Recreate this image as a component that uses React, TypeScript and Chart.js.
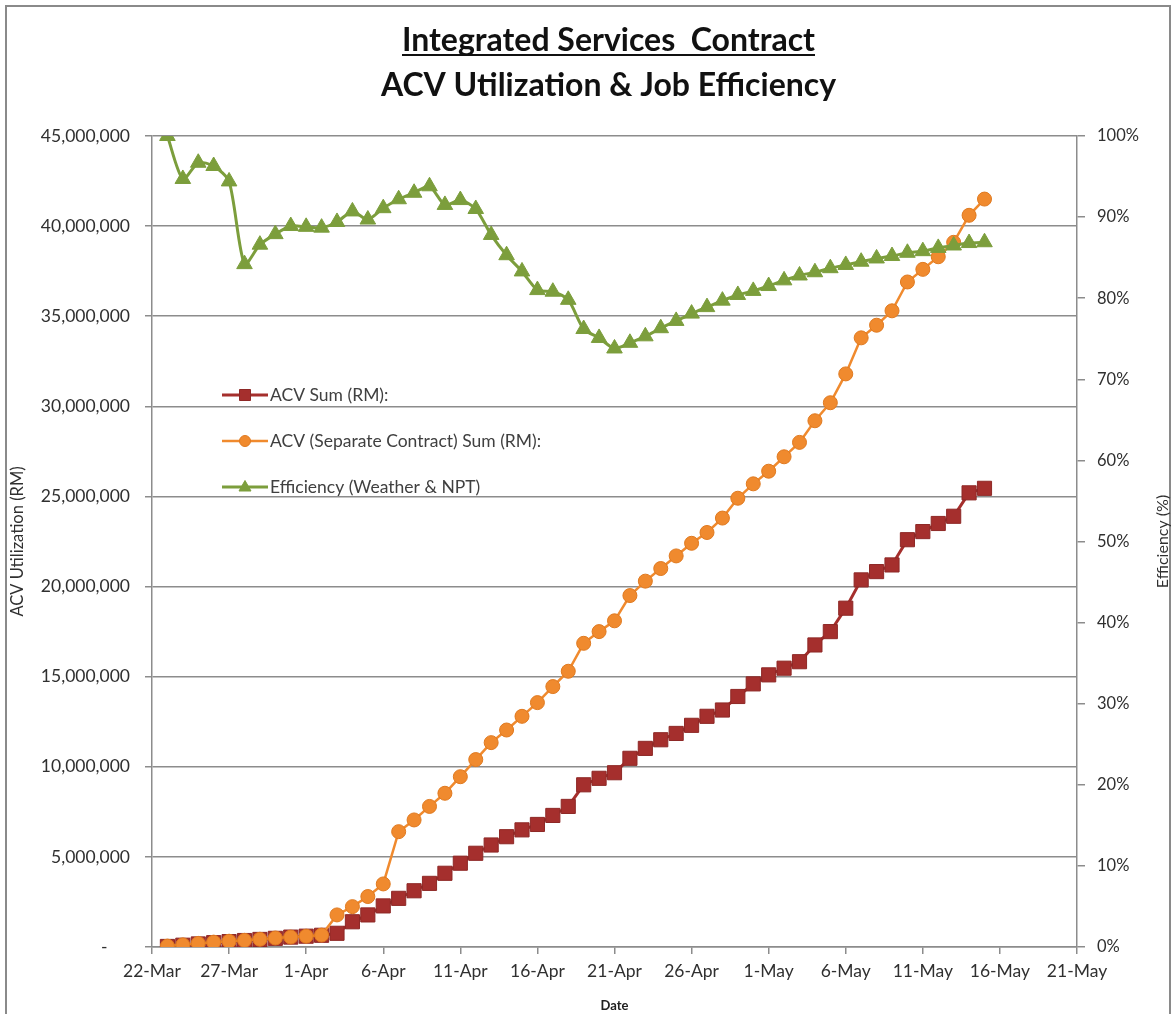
import React, { useEffect, useRef } from "react";
import { Chart, registerables } from "chart.js";

Chart.register(...registerables);

// ---------------- DATA ----------------
const titleLines = ["Integrated Services  Contract", "ACV Utilization & Job Efficiency"];

const seriesNames = [
  "ACV Sum (RM):",
  "ACV (Separate Contract) Sum (RM):",
  "Efficiency (Weather & NPT)",
];

const dates = [
  "23-Mar", "24-Mar", "25-Mar", "26-Mar", "27-Mar", "28-Mar", "29-Mar", "30-Mar", "31-Mar",
  "1-Apr", "2-Apr", "3-Apr", "4-Apr", "5-Apr", "6-Apr", "7-Apr", "8-Apr", "9-Apr", "10-Apr",
  "11-Apr", "12-Apr", "13-Apr", "14-Apr", "15-Apr", "16-Apr", "17-Apr", "18-Apr", "19-Apr", "20-Apr",
  "21-Apr", "22-Apr", "23-Apr", "24-Apr", "25-Apr", "26-Apr", "27-Apr", "28-Apr", "29-Apr", "30-Apr",
  "1-May", "2-May", "3-May", "4-May", "5-May", "6-May", "7-May", "8-May", "9-May", "10-May",
  "11-May", "12-May", "13-May", "14-May", "15-May",
];

// RM (millions)
const acvSum = [
  0.03, 0.1, 0.17, 0.24, 0.3, 0.36, 0.42, 0.48, 0.55, 0.6,
  0.65, 0.76, 1.4, 1.78, 2.28, 2.7, 3.12, 3.53, 4.09, 4.65,
  5.2, 5.66, 6.12, 6.5, 6.8, 7.3, 7.8, 9.0, 9.36, 9.67,
  10.47, 11.02, 11.5, 11.85, 12.3, 12.8, 13.15, 13.9, 14.6, 15.1,
  15.47, 15.83, 16.76, 17.5, 18.8, 20.37, 20.83, 21.2, 22.6, 23.05,
  23.5, 23.9, 25.2, 25.45,
];

// RM (millions)
const acvSeparate = [
  0.05, 0.12, 0.2, 0.27, 0.32, 0.37, 0.43, 0.5, 0.55, 0.6,
  0.66, 1.78, 2.24, 2.8, 3.5, 6.4, 7.05, 7.8, 8.53, 9.45,
  10.4, 11.34, 12.04, 12.8, 13.56, 14.45, 15.3, 16.85, 17.5, 18.1,
  19.5, 20.3, 21.0, 21.7, 22.4, 23.0, 23.8, 24.9, 25.7, 26.4,
  27.2, 28.0, 29.2, 30.2, 31.8, 33.8, 34.5, 35.3, 36.9, 37.6,
  38.3, 39.1, 40.6, 41.5,
];

// %
const efficiency = [
  100, 94.7, 96.7, 96.3, 94.4, 84.2, 86.6, 87.9, 88.9, 88.8,
  88.7, 89.4, 90.7, 89.7, 91.1, 92.2, 93.0, 93.8, 91.5, 92.1,
  91.0, 87.8, 85.3, 83.3, 81.0, 80.8, 79.8, 76.2, 75.1, 73.8,
  74.5, 75.3, 76.3, 77.2, 78.1, 78.9, 79.7, 80.4, 80.9, 81.5,
  82.2, 82.8, 83.2, 83.7, 84.1, 84.5, 84.9, 85.2, 85.6, 85.8,
  86.2, 86.5, 86.8, 86.9,
];

const xTickLabels = [
  "22-Mar", "27-Mar", "1-Apr", "6-Apr", "11-Apr", "16-Apr", "21-Apr",
  "26-Apr", "1-May", "6-May", "11-May", "16-May", "21-May",
];

const leftAxisTitle = "ACV Utilization (RM)";
const rightAxisTitle = "Efficiency (%)";
const xAxisTitle = "Date";

// ---------------- STYLE ----------------
const FONT = "Lato, 'Open Sans', sans-serif";
const RED = "#A52F2D";
const ORANGE = "#F08A2E";
const ORANGE_BORDER = "#E07A20";
const GREEN = "#7C9E3C";
const GRID = "#8C8C8C";
const TEXT = "#303030";

const monthStart: Record<string, number> = { Mar: 0, Apr: 31, May: 61 };
const dayOffset = (s: string) => {
  const [d, m] = s.split("-");
  return monthStart[m] + parseInt(d, 10) - 22;
};

const frameAndTitle = {
  id: "frameAndTitle",
  beforeDraw(chart: any) {
    const ctx = chart.ctx;
    ctx.save();
    ctx.fillStyle = "#ffffff";
    ctx.fillRect(0, 0, chart.width, chart.height);
    ctx.strokeStyle = "#8a8a8a";
    ctx.lineWidth = 2;
    ctx.strokeRect(6, 6, chart.width - 9, chart.height + 40);
    ctx.restore();
  },
  afterDraw(chart: any) {
    const ctx = chart.ctx;
    const ca = chart.chartArea;
    const cx = (ca.left + ca.right) / 2 - 6;
    ctx.save();
    ctx.fillStyle = "#111";
    ctx.textAlign = "center";
    ctx.textBaseline = "alphabetic";
    ctx.font = `bold 32px ${FONT}`;
    const b1 = 51;
    ctx.fillText(titleLines[0], cx, b1);
    const w = ctx.measureText(titleLines[0]).width;
    ctx.fillRect(cx - w / 2, b1 + 3, w, 2);
    ctx.fillText(titleLines[1], cx, 96);

    // right axis title (reads bottom to top)
    ctx.translate(1163, (ca.top + ca.bottom) / 2);
    ctx.rotate(-Math.PI / 2);
    ctx.font = `16px ${FONT}`;
    ctx.fillStyle = TEXT;
    ctx.textBaseline = "middle";
    ctx.fillText(rightAxisTitle, 0, 0);
    ctx.restore();

    // inside legend
    const x0 = ca.left + 70;
    chart.data.datasets.forEach((ds: any, i: number) => {
      const y = ca.top + 259 + i * 46;
      ctx.save();
      ctx.strokeStyle = ds.borderColor;
      ctx.lineWidth = ds.borderWidth;
      ctx.beginPath();
      ctx.moveTo(x0, y);
      ctx.lineTo(x0 + 46, y);
      ctx.stroke();
      const mx = x0 + 23;
      ctx.fillStyle = ds.pointBackgroundColor;
      ctx.strokeStyle = ds.pointBorderColor;
      ctx.lineWidth = 1;
      ctx.beginPath();
      if (ds.pointStyle === "rect") {
        ctx.rect(mx - 5.5, y - 5.5, 11, 11);
      } else if (ds.pointStyle === "circle") {
        ctx.arc(mx, y, 5.5, 0, Math.PI * 2);
      } else {
        ctx.moveTo(mx, y - 6.5);
        ctx.lineTo(mx + 6, y + 4);
        ctx.lineTo(mx - 6, y + 4);
        ctx.closePath();
      }
      ctx.fill();
      ctx.stroke();
      ctx.fillStyle = "#404040";
      ctx.font = `17.5px ${FONT}`;
      ctx.textAlign = "left";
      ctx.textBaseline = "middle";
      ctx.fillText(ds.label, x0 + 48, y);
      ctx.restore();
    });
  },
};

export default function App() {
  const ref = useRef<HTMLCanvasElement>(null);

  useEffect(() => {
    const canvas = ref.current;
    if (!canvas) return;
    const xs = dates.map(dayOffset);
    const toPts = (arr: number[], k: number) => arr.map((v, i) => ({ x: xs[i], y: v * k }));

    const chart = new Chart(canvas, {
      type: "line",
      data: {
        datasets: [
          {
            label: seriesNames[0],
            data: toPts(acvSum, 1e6),
            yAxisID: "y",
            borderColor: RED,
            borderWidth: 3,
            pointStyle: "rect",
            pointRadius: 10,
            pointBackgroundColor: RED,
            pointBorderColor: "#8E2826",
            pointBorderWidth: 1,
            tension: 0,
            order: 2,
          },
          {
            label: seriesNames[1],
            data: toPts(acvSeparate, 1e6),
            yAxisID: "y",
            borderColor: ORANGE,
            borderWidth: 2.5,
            pointStyle: "circle",
            pointRadius: 7,
            pointBackgroundColor: ORANGE,
            pointBorderColor: ORANGE_BORDER,
            pointBorderWidth: 1,
            tension: 0,
            order: 1,
          },
          {
            label: seriesNames[2],
            data: toPts(efficiency, 1),
            yAxisID: "y2",
            borderColor: GREEN,
            borderWidth: 3,
            pointStyle: "triangle",
            pointRadius: 9,
            pointBackgroundColor: GREEN,
            pointBorderColor: GREEN,
            pointBorderWidth: 1,
            tension: 0.25,
            order: 0,
          },
        ] as any,
      },
      options: {
        responsive: false,
        animation: false,
        devicePixelRatio: 1,
        layout: { padding: { top: 136, left: 0, right: 0, bottom: 0 } },
        plugins: {
          legend: { display: false },
          title: { display: false },
          tooltip: { enabled: false },
        },
        scales: {
          x: {
            type: "linear",
            min: 0,
            max: 60,
            afterBuildTicks: (scale: any) => {
              scale.ticks = xTickLabels.map((_, i) => ({ value: i * 5 }));
            },
            afterFit: (scale: any) => {
              scale.height = 67;
            },
            ticks: {
              autoSkip: false,
              maxRotation: 0,
              padding: 7,
              color: TEXT,
              font: { family: FONT, size: 17.5 },
              callback: (_v: any, i: number) => xTickLabels[i],
            },
            grid: {
              drawOnChartArea: false,
              drawTicks: true,
              tickLength: 7,
              color: GRID,
              lineWidth: 1.5,
            },
            border: { color: GRID, width: 1.5 },
            title: {
              display: true,
              text: xAxisTitle,
              color: "#222",
              font: { family: FONT, size: 13, weight: "bold" },
              padding: { top: 0, bottom: 0 },
            },
          },
          y: {
            type: "linear",
            position: "left",
            min: 0,
            max: 45000000,
            afterBuildTicks: (scale: any) => {
              const t = [];
              for (let v = 0; v <= 45000000; v += 5000000) t.push({ value: v });
              scale.ticks = t;
            },
            afterFit: (scale: any) => {
              scale.width = 152;
            },
            ticks: {
              padding: 15,
              color: TEXT,
              font: { family: FONT, size: 17.5 },
              callback: (v: any) => (v === 0 ? "-     " : Number(v).toLocaleString("en-US")),
            },
            grid: {
              color: GRID,
              lineWidth: 1.5,
              tickLength: 7,
            },
            border: { color: GRID, width: 1.5 },
            title: {
              display: true,
              text: leftAxisTitle,
              color: TEXT,
              font: { family: FONT, size: 16.5 },
              padding: { top: 8, bottom: 0 },
            },
          },
          y2: {
            type: "linear",
            position: "right",
            min: 0,
            max: 100,
            afterBuildTicks: (scale: any) => {
              const t = [];
              for (let v = 0; v <= 100; v += 10) t.push({ value: v });
              scale.ticks = t;
            },
            afterFit: (scale: any) => {
              scale.width = 96;
            },
            ticks: {
              padding: 12,
              color: TEXT,
              font: { family: FONT, size: 16.5 },
              callback: (v: any) => `${v}%`,
            },
            grid: {
              drawOnChartArea: false,
              color: GRID,
              lineWidth: 1.5,
              tickLength: 8,
            },
            border: { color: GRID, width: 1.5 },
          },
        },
      } as any,
      plugins: [frameAndTitle],
    });

    return () => chart.destroy();
  }, []);

  return (
    <div style={{ position: "absolute", left: 0, top: 0, width: 1173, height: 1014 }}>
      <canvas ref={ref} width={1173} height={1014} style={{ width: 1173, height: 1014, display: "block" }} />
    </div>
  );
}
